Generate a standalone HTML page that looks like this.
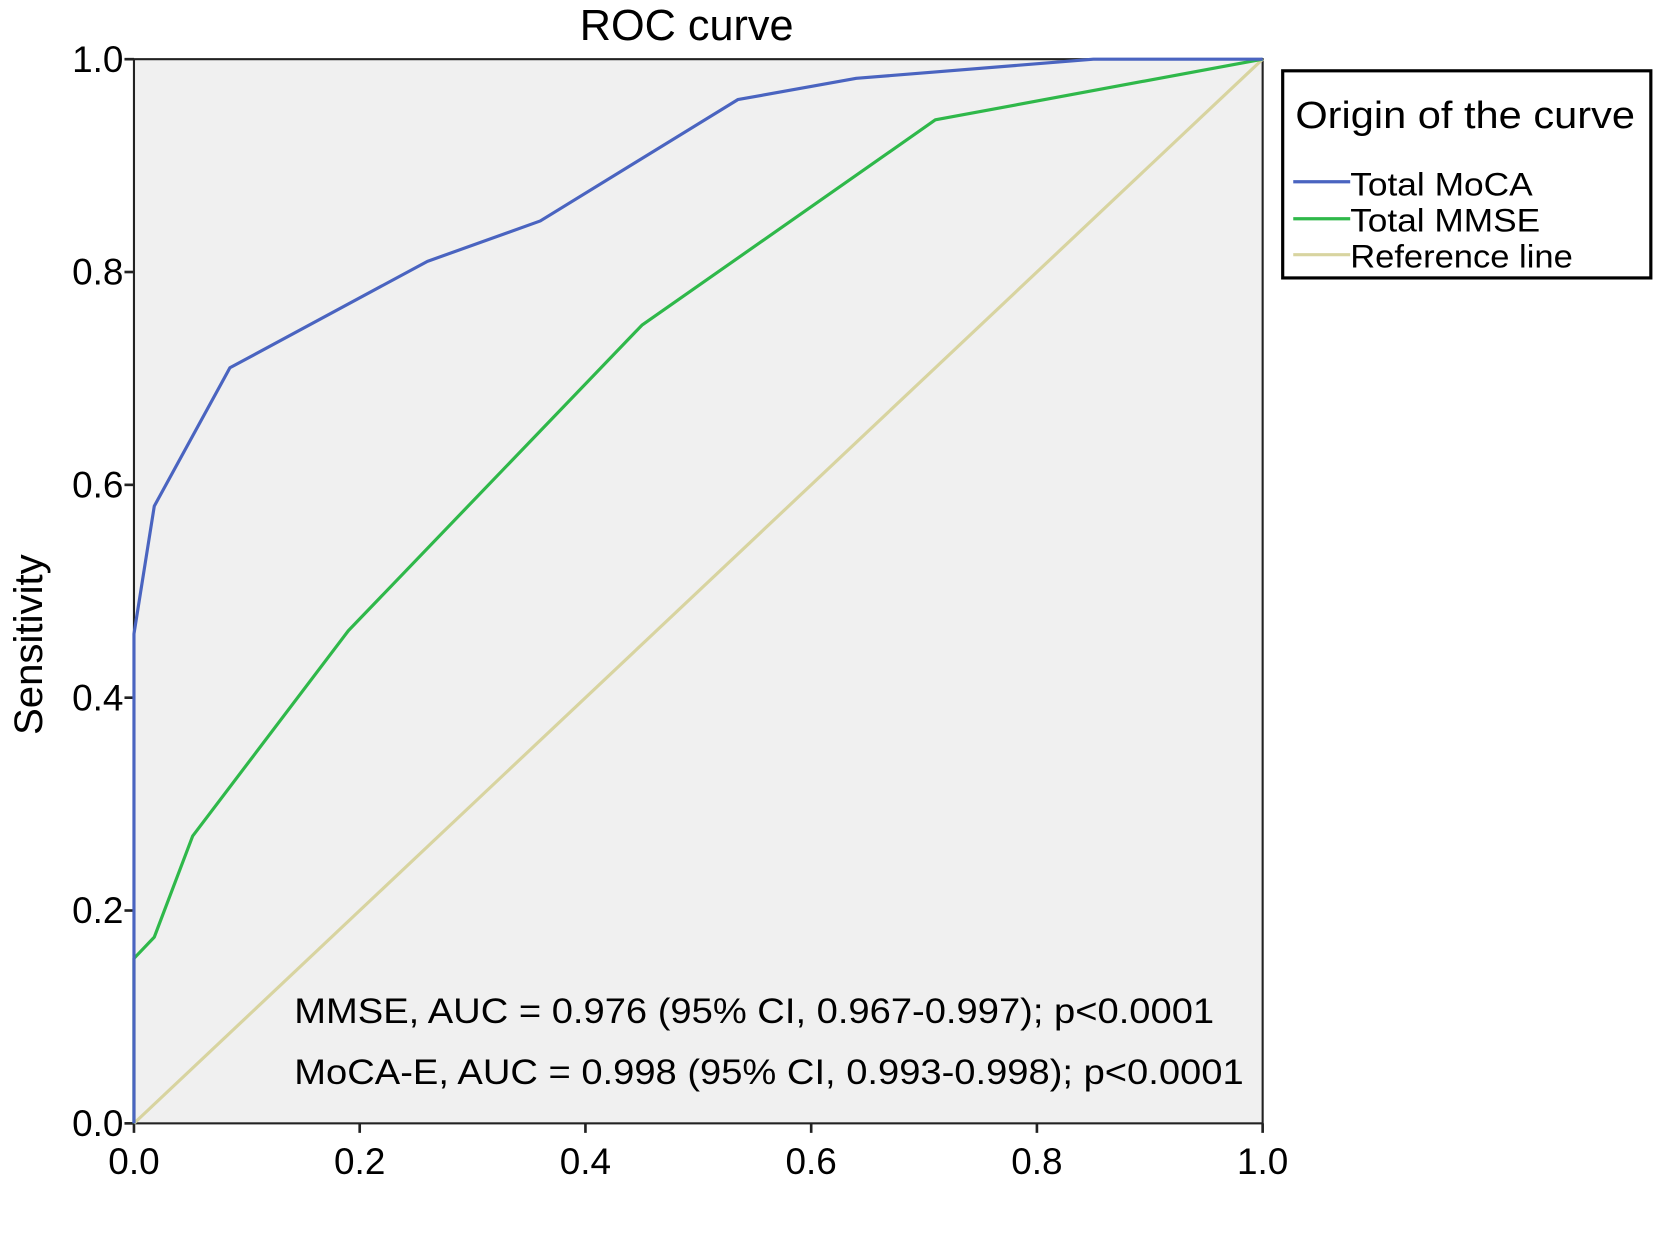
<!DOCTYPE html>
<html><head><meta charset="utf-8"><style>
html,body{margin:0;padding:0;background:#fff;}
svg{display:block;font-family:"Liberation Sans",Arial,sans-serif;}
</style></head><body>
<svg id="chart" width="1654" height="1247" viewBox="0 0 1568 1180" preserveAspectRatio="none" xmlns="http://www.w3.org/2000/svg">
<text x="651" y="38" font-size="41" text-anchor="middle">ROC curve</text>
<rect x="127" y="56" width="1070" height="1007" fill="#f0f0f0" stroke="#222" stroke-width="2"/>
<g id="axes"></g>
<g id="series"></g>
<text transform="translate(40,610) rotate(-90)" font-size="38" text-anchor="middle">Sensitivity</text>
<text x="279" y="968" font-size="33" textLength="872" lengthAdjust="spacingAndGlyphs">MMSE, AUC = 0.976 (95% CI, 0.967-0.997); p&lt;0.0001</text>
<text x="279" y="1026" font-size="33" textLength="900" lengthAdjust="spacingAndGlyphs">MoCA-E, AUC = 0.998 (95% CI, 0.993-0.998); p&lt;0.0001</text>
<g>
<rect x="1216" y="67" width="349" height="196" fill="#fff" stroke="#000" stroke-width="3"/>
<text x="1228" y="121" font-size="36" textLength="322" lengthAdjust="spacingAndGlyphs">Origin of the curve</text>
<line x1="1226" y1="172" x2="1280" y2="172" stroke="#4a64c0" stroke-width="3"/>
<text x="1280" y="185" font-size="31" textLength="173" lengthAdjust="spacingAndGlyphs">Total MoCA</text>
<line x1="1226" y1="207" x2="1280" y2="207" stroke="#2fb84a" stroke-width="3"/>
<text x="1280" y="219" font-size="31" textLength="180" lengthAdjust="spacingAndGlyphs">Total MMSE</text>
<line x1="1226" y1="241" x2="1280" y2="241" stroke="#d8d4a0" stroke-width="3"/>
<text x="1280" y="253" font-size="31" textLength="211" lengthAdjust="spacingAndGlyphs">Reference line</text>
</g>
</svg>
<script>
const tickValues = [0, 0.2, 0.4, 0.6, 0.8, 1.0];
const tickLabels = ["0.0", "0.2", "0.4", "0.6", "0.8", "1.0"];
const mocaFpr = [0, 0, 0.018, 0.085, 0.26, 0.36, 0.535, 0.64, 0.85, 1];
const mocaTpr = [0, 0.46, 0.58, 0.71, 0.81, 0.848, 0.962, 0.982, 1, 1];
const mmseFpr = [0, 0, 0.018, 0.052, 0.19, 0.45, 0.71, 1];
const mmseTpr = [0, 0.155, 0.175, 0.27, 0.463, 0.75, 0.943, 1];
const refFpr = [0, 1];
const refTpr = [0, 1];

const NS = "http://www.w3.org/2000/svg";
const X0 = 127, X1 = 1197, Y0 = 1063, Y1 = 56;
function xs(v){ return X0 + v * (X1 - X0); }
function ys(v){ return Y0 - v * (Y0 - Y1); }
const axes = document.getElementById('axes');
const series = document.getElementById('series');
function mk(tag, attrs){ const e = document.createElementNS(NS, tag); for (const k in attrs) e.setAttribute(k, attrs[k]); return e; }

tickValues.forEach((v, i) => {
  const tx = mk('line', {x1: xs(v), y1: Y0, x2: xs(v), y2: Y0 + 9, stroke: '#222', 'stroke-width': 2.5});
  
  
  axes.appendChild(tx);
  const lx = mk('text', {x: xs(v), y: Y0 + 48, 'font-size': 35, 'text-anchor': 'middle'});
  lx.textContent = tickLabels[i];
  
  
  axes.appendChild(lx);
  const ty = mk('line', {x1: X0 - 9, y1: ys(v), x2: X0, y2: ys(v), stroke: '#222', 'stroke-width': 2.5});
  
  
  axes.appendChild(ty);
  const ly = mk('text', {x: X0 - 10, y: ys(v) + 12, 'font-size': 35, 'text-anchor': 'end'});
  ly.textContent = tickLabels[i];
  
  
  axes.appendChild(ly);
});

function drawLine(fx, ty, color, name){
  const pts = fx.map((v, i) => xs(v) + ',' + ys(ty[i])).join(' ');
  const p = mk('polyline', {points: pts, fill: 'none', stroke: color, 'stroke-width': 3, 'stroke-linejoin': 'round'});
  
  
  series.appendChild(p);
}
drawLine(refFpr, refTpr, '#d8d4a0', 'reference-line');
drawLine(mmseFpr, mmseTpr, '#2fb84a', 'mmse-roc-line');
drawLine(mocaFpr, mocaTpr, '#4a64c0', 'moca-roc-line');
</script>
</body></html>
